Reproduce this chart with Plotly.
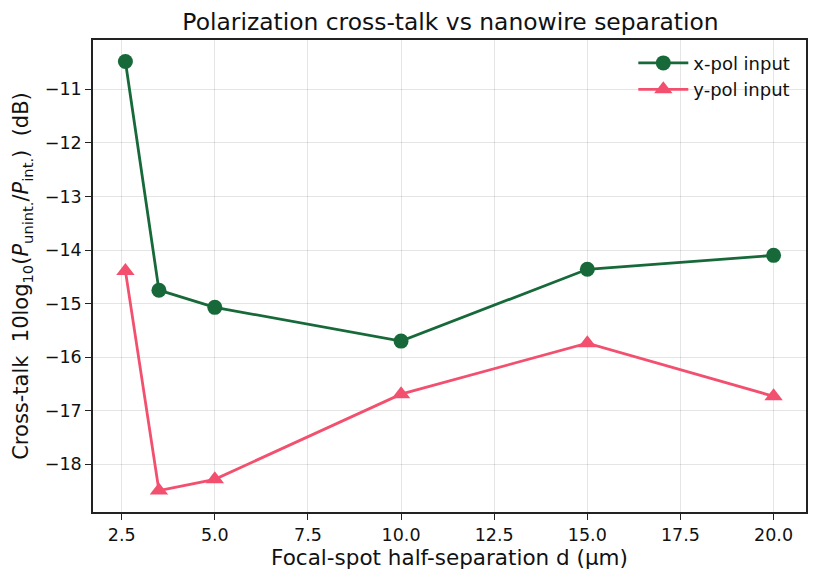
import plotly.graph_objects as go

d = [2.6, 3.5, 5.0, 10.0, 15.0, 20.0]
xpol = [-10.48, -14.75, -15.07, -15.70, -14.36, -14.10]
ypol = [-14.39, -18.49, -18.28, -16.69, -15.74, -16.73]
xticks = [2.5, 5.0, 7.5, 10.0, 12.5, 15.0, 17.5, 20.0]
yticks = [-11, -12, -13, -14, -15, -16, -17, -18]

green = "#17693a"
pink = "#f2506e"

fig = go.Figure()
fig.add_trace(go.Scatter(x=d, y=xpol, mode="lines+markers", name="x-pol input",
                         line=dict(color=green, width=2.8),
                         marker=dict(symbol="circle", size=15, color=green)))
fig.add_trace(go.Scatter(x=d, y=ypol, mode="lines+markers", name="y-pol input",
                         line=dict(color=pink, width=2.8),
                         marker=dict(symbol="triangle-up", size=16, color=pink)))

axis_common = dict(showline=True, linecolor="#222", linewidth=1.5, mirror=True,
                   ticks="outside", ticklen=6, tickwidth=1.4, tickcolor="#222",
                   showgrid=True, gridcolor="rgba(0,0,0,0.1)", gridwidth=1,
                   zeroline=False, tickfont=dict(size=17.5, color="#111"))

fig.update_layout(
    width=820, height=580,
    margin=dict(l=93, r=12, t=40, b=68),
    paper_bgcolor="white", plot_bgcolor="white",
    font=dict(family="DejaVu Sans", color="#111"),
    title=dict(text="Polarization cross-talk vs nanowire separation",
               x=0.5494, xanchor="center", y=0.962, yanchor="middle",
               font=dict(size=23.4)),
    xaxis=dict(range=[1.73, 20.87], tickvals=xticks, tickformat=".1f",
               title=dict(text="Focal-spot half-separation d (µm)", font=dict(size=21.5), standoff=6),
               **axis_common),
    yaxis=dict(range=[-18.89, -10.08], tickvals=yticks,
               title=dict(text="Cross-talk  10log<sub>10</sub>(<i>P</i><sub>unint.</sub>/<i>P</i><sub>int.</sub>)  (dB)",
                          font=dict(size=21), standoff=10),
               **axis_common),
    legend=dict(x=0.985, y=0.99, xanchor="right", yanchor="top",
                bgcolor="rgba(255,255,255,0)", font=dict(size=18), itemwidth=50,
                tracegroupgap=0),
)

fig.write_html("out.html")
